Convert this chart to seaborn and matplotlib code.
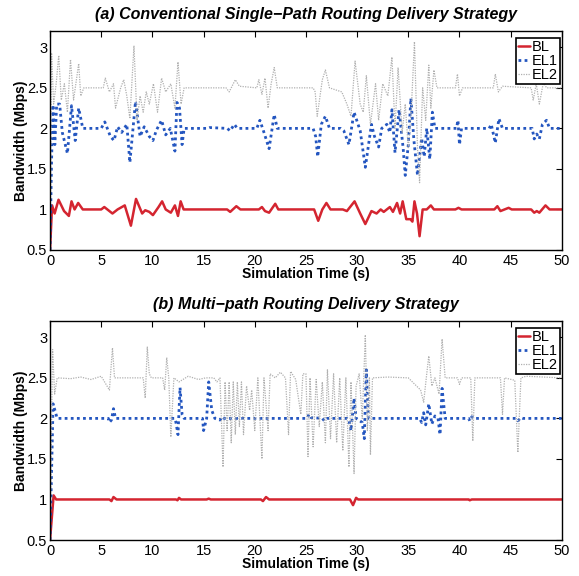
import matplotlib
matplotlib.use("Agg")
import matplotlib.pyplot as plt
import seaborn as sns
import pandas as pd

# ---------------- data: (time s, bandwidth Mbps) ----------------
bl_a = [(0,0.5),(0.2,1.05),(0.45,0.95),(0.83,1.12),(1.37,0.98),(1.84,0.92),(2.1,1.1),(2.4,1.0),(2.75,1.08),(3.2,1.0),
        (5.0,1.0),(5.3,1.03),(5.6,1.0),(6.1,0.95),(6.6,1.0),(7.3,1.05),(7.9,0.8),(8.4,1.13),(9.0,0.95),(9.3,0.99),
        (9.7,0.97),(10.05,0.93),(10.6,1.03),(10.95,1.1),(11.3,1.0),(11.8,0.96),(12.2,1.05),(12.5,0.92),(12.76,1.1),
        (13.05,1.0),(17.3,1.0),(17.6,0.97),(18.2,1.04),(18.6,1.0),(20.4,1.0),(20.7,1.03),(21.0,0.98),(21.4,0.96),
        (22.0,1.07),(22.3,1.0),(25.8,1.0),(26.2,0.86),(26.6,1.0),(27.0,1.08),(27.4,1.0),(28.6,1.0),(29.0,0.98),
        (29.75,1.1),(30.3,0.95),(30.8,0.82),(31.4,0.98),(31.9,0.95),(32.3,1.0),(32.6,0.97),(33.2,1.03),(33.5,0.97),
        (33.9,1.08),(34.2,0.95),(34.45,1.1),(34.8,0.88),(35.2,0.88),(35.4,0.85),(35.6,1.1),(35.85,0.95),(36.1,0.67),
        (36.4,1.0),(36.8,1.0),(37.2,1.05),(37.5,1.0),(39.6,1.0),(39.9,1.02),(40.2,1.0),(43.4,1.0),(43.7,1.04),
        (44.0,0.98),(44.8,1.02),(45.1,1.0),(47.0,1.0),(47.3,0.96),(47.55,0.98),(47.8,0.96),(48.4,1.05),(48.8,1.0),(50,1.0)]

el1_a = [(0,0.5),(0.15,1.6),(0.29,2.29),(0.47,1.8),(0.65,2.3),(0.94,2.3),(1.2,1.95),(1.7,1.69),(2.1,2.28),(2.46,1.85),
         (2.8,2.25),(3.2,2.0),(5.0,2.0),(5.35,2.08),(5.9,1.9),(6.25,1.85),(6.6,2.02),(7.0,1.95),(7.5,2.05),(7.8,1.58),
         (8.35,2.33),(8.8,1.9),(9.2,2.02),(9.7,1.9),(10.05,1.85),(10.4,1.98),(10.9,2.1),(11.3,1.92),(11.75,2.0),
         (12.2,1.72),(12.4,2.32),(12.65,2.25),(12.9,1.8),(13.1,2.0),(15.4,2.0),(15.6,2.01),(17.3,2.0),(17.6,1.97),
         (18.0,2.05),(18.3,2.0),(20.2,2.0),(20.5,2.1),(20.9,1.95),(21.4,1.75),(21.9,2.17),(22.2,2.0),(25.7,2.0),
         (25.95,1.9),(26.15,1.65),(26.5,2.05),(26.9,2.15),(27.3,2.0),(28.4,2.0),(28.7,1.97),(29.2,1.8),(29.7,2.2),
         (30.3,1.97),(30.8,1.52),(31.4,2.05),(31.7,1.9),(32.1,1.77),(32.4,2.0),(32.9,2.05),(33.2,1.95),(33.4,2.23),
         (33.7,1.7),(34.1,2.23),(34.5,1.75),(34.7,1.42),(35.0,1.8),(35.25,2.37),(35.55,1.85),(35.9,1.42),(36.3,1.88),
         (36.55,1.65),(36.8,2.0),(37.1,1.62),(37.35,2.2),(37.6,2.0),(39.7,2.0),(39.85,2.1),(40.0,1.8),(40.2,2.0),
         (42.9,2.0),(43.1,2.05),(43.5,1.82),(43.85,2.12),(44.2,2.0),(47.1,2.0),(47.3,1.87),(47.55,1.93),(47.8,1.87),
         (48.1,2.05),(48.5,2.1),(48.8,2.0),(50,2.0)]

el2_a = [(0,0.5),(0.15,2.93),(0.35,2.3),(0.6,2.55),(0.85,2.9),(1.1,2.35),(1.4,2.55),(1.7,2.2),(2.0,2.85),(2.3,2.35),
         (2.8,2.8),(3.0,2.4),(3.3,2.5),(5.2,2.5),(5.4,2.62),(5.8,2.45),(6.2,2.55),(6.4,2.25),(6.9,2.5),(7.2,2.6),
         (7.5,2.4),(7.8,2.12),(8.2,3.02),(8.5,2.1),(8.8,2.4),(9.1,2.2),(9.4,2.45),(9.7,2.3),(10.1,2.55),(10.5,2.2),
         (10.9,2.62),(11.3,2.45),(11.8,2.55),(12.2,2.25),(12.5,2.82),(12.8,2.3),(13.1,2.5),(17.2,2.5),(17.5,2.45),
         (18.1,2.6),(18.5,2.52),(20.2,2.5),(20.4,2.6),(20.7,2.42),(21.0,2.62),(21.3,2.25),(21.6,2.55),(21.9,2.75),
         (22.2,2.5),(25.7,2.5),(25.9,2.45),(26.1,2.15),(26.6,2.6),(26.9,2.72),(27.3,2.5),(28.5,2.45),(29.0,2.3),
         (29.4,2.15),(29.8,2.83),(30.3,2.3),(30.6,2.2),(30.9,2.65),(31.3,2.05),(31.8,2.55),(32.1,2.1),(32.5,2.55),
         (33.0,2.4),(33.4,2.88),(33.7,2.0),(34.0,2.75),(34.4,1.95),(34.7,2.3),(35.0,1.75),(35.3,2.25),(35.6,3.07),
         (35.9,1.75),(36.1,1.33),(36.4,2.5),(36.7,2.1),(37.0,2.78),(37.2,2.25),(37.5,2.72),(37.8,2.5),(39.6,2.5),
         (39.8,2.67),(40.0,2.4),(40.3,2.5),(43.3,2.5),(43.5,2.67),(43.8,2.45),(44.2,2.52),(47.0,2.5),(47.2,2.35),
         (47.5,2.55),(47.8,2.3),(48.2,2.57),(48.5,2.5),(50,2.5)]

bl_b = [(0,0.5),(0.35,1.05),(0.6,1.0),(5.8,1.0),(6.0,0.98),(6.2,1.03),(6.5,1.0),(12.3,1.0),(12.45,0.99),(12.6,1.02),
        (12.8,1.0),(15.3,1.0),(15.5,1.01),(15.7,1.0),(20.6,1.0),(20.8,0.98),(21.1,1.03),(21.4,1.0),(29.3,1.0),
        (29.6,0.93),(29.9,1.02),(30.1,1.0),(40.9,1.0),(41.0,0.99),(41.2,1.0),(50,1.0)]

el1_b = [(0,0.5),(0.3,2.18),(0.7,2.0),(5.7,2.0),(5.8,1.95),(6.0,1.98),(6.2,2.12),(6.4,2.0),(12.2,2.0),(12.3,1.95),
         (12.5,1.8),(12.7,2.38),(12.9,2.05),(13.1,2.0),(14.9,2.0),(15.0,1.85),(15.3,2.0),(15.5,2.45),(15.8,2.1),
         (16.1,2.0),(16.6,1.98),(16.8,2.02),(17.0,2.0),(25.1,2.0),(25.3,2.05),(25.5,2.01),(26.6,2.0),(26.8,1.97),
         (27.0,2.0),(29.0,2.0),(29.2,1.98),(29.4,1.85),(29.7,2.25),(29.9,2.0),(30.5,1.95),(30.7,1.75),(30.9,2.6),
         (31.1,2.0),(36.1,2.0),(36.3,1.95),(36.5,2.07),(36.7,1.92),(37.0,2.18),(37.3,1.93),(37.6,2.03),(37.9,2.0),
         (38.1,1.8),(38.3,2.37),(38.6,2.0),(40.9,2.0),(41.0,1.97),(41.2,2.02),(41.4,2.0),(45.5,2.0),(45.7,1.97),
         (46.0,2.01),(46.2,2.0),(50,2.0)]

el2_b = [(0,0.5),(0.25,2.85),(0.45,2.3),(0.7,2.5),(2.0,2.49),(3.0,2.51),(4.0,2.48),(5.0,2.52),(5.8,2.35),(6.1,2.87),
         (6.3,2.5),(9.1,2.5),(9.3,2.25),(9.5,2.88),(9.7,2.55),(9.9,2.5),(11.0,2.5),(11.2,2.35),(11.4,2.75),(11.6,2.5),
         (11.8,1.77),(12.1,2.5),(12.6,2.45),(13.5,2.52),(14.5,2.48),(15.2,2.5),(16.0,2.5),(16.3,2.45),(16.6,2.5),
         (16.9,1.4),(17.1,2.45),(17.3,1.85),(17.5,2.45),(17.7,1.7),(17.9,2.45),(18.1,1.8),(18.3,2.45),(18.5,1.9),
         (18.7,2.45),(18.9,1.8),(19.2,2.4),(19.5,2.1),(19.7,2.35),(20.0,1.85),(20.3,2.5),(20.7,1.5),(20.9,2.5),
         (21.3,1.85),(21.5,2.55),(22.0,2.5),(22.5,2.57),(23.0,2.5),(23.3,1.8),(23.5,2.58),(24.0,2.48),(24.5,2.05),
         (24.7,2.55),(25.0,2.55),(25.2,1.53),(25.4,2.5),(25.7,1.65),(26.0,2.48),(26.3,1.9),(26.6,2.45),(26.9,1.7),
         (27.1,2.6),(27.4,1.75),(27.7,2.55),(28.0,1.7),(28.3,2.5),(28.6,1.6),(28.9,2.5),(29.2,1.4),(29.4,2.45),
         (29.7,1.32),(29.9,2.4),(30.2,2.55),(30.5,2.0),(30.8,3.03),(31.0,1.85),(31.2,2.5),(31.3,1.55),(31.5,2.5),
         (33.0,2.51),(35.0,2.5),(36.2,2.35),(36.5,2.2),(36.8,2.55),(37.0,2.77),(37.3,2.4),(37.6,2.5),(38.0,2.3),
         (38.3,2.98),(38.6,2.5),(39.8,2.5),(40.0,2.42),(40.2,2.5),(41.1,2.5),(41.3,1.72),(41.5,2.5),(44.0,2.5),
         (44.2,2.05),(44.4,2.5),(45.4,2.47),(45.7,1.58),(46.0,2.5),(46.5,2.52),(50,2.5)]

series_names = ["BL", "EL1", "EL2"]
titles = ["(a) Conventional Single\u2212Path Routing Delivery Strategy",
          "(b) Multi\u2212path Routing Delivery Strategy"]
x_ticks = [0, 5, 10, 15, 20, 25, 30, 35, 40, 45, 50]
y_ticks = [0.5, 1, 1.5, 2, 2.5, 3]
y_tick_labels = ["0.5", "1", "1.5", "2", "2.5", "3"]

panels = [[bl_a, el1_a, el2_a], [bl_b, el1_b, el2_b]]

# ---------------- style ----------------
sns.set_theme(style="white")
plt.rcParams["font.family"] = ["Liberation Sans", "DejaVu Sans"]
plt.rcParams.update({
    "text.color": "black", "axes.labelcolor": "black",
    "xtick.direction": "in", "ytick.direction": "in",
    "xtick.top": True, "ytick.right": True,
    "xtick.major.size": 4, "ytick.major.size": 4,
    "xtick.major.width": 0.8, "ytick.major.width": 0.8,
    "axes.edgecolor": "black", "axes.linewidth": 1.0,
    "xtick.color": "black", "ytick.color": "black",
    "xtick.labelcolor": "black", "ytick.labelcolor": "black",
})

styles = {
    "BL":  dict(color="#d42530", lw=1.8, ls="-"),
    "EL1": dict(color="#2456c0", lw=2.0, ls=(0, (1, 1.2))),
    "EL2": dict(color="#b0b0b0", lw=0.9, ls=(0, (1, 1))),
}

fig = plt.figure(figsize=(5.79, 5.76), dpi=100)
ax_a = fig.add_axes([0.0864, 0.566, 0.884, 0.380])
ax_b = fig.add_axes([0.0864, 0.0625, 0.884, 0.380])

for ax, data, title in zip([ax_a, ax_b], panels, titles):
    for name, pts in zip(series_names, data):
        df = pd.DataFrame(pts, columns=["t", "bw"])
        st = styles[name]
        sns.lineplot(data=df, x="t", y="bw", ax=ax, sort=False, estimator=None,
                     color=st["color"], linewidth=st["lw"], linestyle=st["ls"], label=name)
    ax.set_xlim(0, 50)
    ax.set_ylim(0.5, 3.2)
    ax.set_xticks(x_ticks)
    ax.set_xticklabels([str(v) for v in x_ticks])
    ax.set_yticks(y_ticks)
    ax.set_yticklabels(y_tick_labels)
    ax.tick_params(axis="x", labelsize=10.5, pad=3)
    ax.tick_params(axis="y", labelsize=10.5, pad=2)
    ax.set_title(title, fontsize=11.5, fontweight="bold", fontstyle="italic", pad=9, color="black")
    ax.set_xlabel("Simulation Time (s)", fontsize=10, fontweight="bold", labelpad=-1)
    ax.set_ylabel("Bandwidth (Mbps)", fontsize=10, fontweight="bold", labelpad=-1)
    for sp in ax.spines.values():
        sp.set_visible(True)
        sp.set_color("black")
    leg = ax.legend(loc="upper right", bbox_to_anchor=(0.996, 0.97), fontsize=10.5, frameon=True,
                    fancybox=False, framealpha=1, edgecolor="black", borderpad=0.15, labelspacing=0.0,
                    handlelength=0.85, handletextpad=0.1, borderaxespad=0.0)
    leg.get_frame().set_linewidth(1.2)
    for t in leg.get_texts():
        t.set_color("black")

fig.savefig("out.png", dpi=100)
